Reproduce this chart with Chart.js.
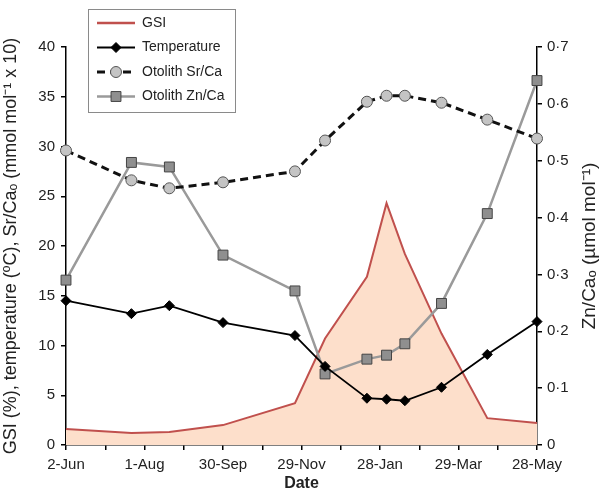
<!DOCTYPE html>
<html>
<head>
<meta charset="utf-8">
<title>GSI, temperature and otolith chemistry</title>
<script src="https://cdn.jsdelivr.net/npm/chart.js@4/dist/chart.umd.min.js"></script>
<style>
  html, body { margin: 0; padding: 0; background: #fff; }
  #wrap { width: 606px; height: 493px; }
</style>
</head>
<body>
<div id="wrap"><canvas id="chart" width="606" height="493"></canvas></div>
<script>
'use strict';

// days after 2-Jun for each sampling date
const sampleDays = [0, 50, 79, 120, 175, 198, 230, 245, 259, 287, 322, 360];
const dateLabels = ['2-Jun', '1-Aug', '30-Sep', '29-Nov', '28-Jan', '29-Mar', '28-May'];

const gsi = [1.6, 1.2, 1.3, 2.0, 4.2, 10.7, 16.9, 24.3, 19.2, 11.2, 2.7, 2.2];
const temperature = [14.5, 13.2, 14.0, 12.3, 11.0, 7.9, 4.7, 4.6, 4.45, 5.8, 9.1, 12.4];
const srCa = [29.6, 26.6, 25.8, 26.4, 27.5, 30.6, 34.5, 35.1, 35.1, 34.4, 32.7, 30.8];
const znCa = [0.29, 0.497, 0.489, 0.334, 0.271, 0.125, 0.151, 0.158, 0.178, 0.249, 0.407, 0.641];

const FONT = '"Liberation Sans", Arial, sans-serif';
const pts = (ys) => ys.map((y, i) => ({ x: sampleDays[i], y }));

Chart.defaults.font.family = FONT;
Chart.defaults.color = '#222';

function marker(ctx, ds, x, y) {
  const r = ds.pointRadius;
  ctx.save();
  ctx.setLineDash([]);
  ctx.fillStyle = ds.pointBackgroundColor;
  ctx.strokeStyle = ds.pointBorderColor;
  ctx.lineWidth = ds.pointBorderWidth;
  ctx.beginPath();
  if (ds.pointStyle === 'circle') {
    ctx.arc(x, y, r, 0, Math.PI * 2);
  } else if (ds.pointStyle === 'rect') {
    const s = r * Math.SQRT1_2;
    ctx.rect(x - s, y - s, 2 * s, 2 * s);
  } else if (ds.pointStyle === 'rectRot') {
    ctx.moveTo(x - r, y); ctx.lineTo(x, y - r); ctx.lineTo(x + r, y); ctx.lineTo(x, y + r);
    ctx.closePath();
  }
  ctx.fill();
  ctx.stroke();
  ctx.restore();
}

// boxed legend over the top-left of the plot, plus the right title read bottom-up
const extras = {
  id: 'extras',
  afterDraw(chart) {
    const ctx = chart.ctx;
    const left = 88, top = 9, w = 147, h = 103;
    ctx.save();
    ctx.fillStyle = '#fff';
    ctx.fillRect(left, top, w, h);
    ctx.strokeStyle = '#8a8a8a';
    ctx.lineWidth = 1;
    ctx.strokeRect(left + 0.5, top + 0.5, w, h);
    ctx.font = '14px ' + FONT;
    ctx.textBaseline = 'middle';
    chart.data.datasets.forEach((ds, i) => {
      const y = top + 14 + i * 24.5;
      ctx.strokeStyle = ds.borderColor;
      ctx.lineWidth = i === 0 ? 2.5 : ds.borderWidth;
      ctx.setLineDash(ds.borderDash || []);
      ctx.beginPath();
      ctx.moveTo(97, y);
      ctx.lineTo(135, y);
      ctx.stroke();
      ctx.setLineDash([]);
      if (ds.pointRadius) marker(ctx, ds, 116, y);
      ctx.fillStyle = '#222';
      ctx.fillText(ds.label, 142, y);
    });

    const a = chart.chartArea;
    ctx.translate(590, (a.top + a.bottom) / 2);
    ctx.rotate(-Math.PI / 2);
    ctx.textAlign = 'center';
    ctx.font = '19px ' + FONT;
    ctx.fillText('Zn/Caₒ (µmol mol⁻¹)', 0, 0);
    ctx.restore();
  }
};

const fixSize = (size, key) => (scale) => { scale[key] = size; };
const tickGrid = { drawOnChartArea: false, color: '#000', tickLength: 5, lineWidth: 1.5 };

new Chart(document.getElementById('chart'), {
  type: 'line',
  data: {
    datasets: [
      {
        label: 'GSI',
        data: pts(gsi),
        yAxisID: 'y',
        borderColor: '#c0504d',
        borderWidth: 2,
        backgroundColor: '#fddfcb',
        fill: 'origin',
        pointRadius: 0,
        tension: 0,
        order: 4
      },
      {
        label: 'Temperature',
        data: pts(temperature),
        yAxisID: 'y',
        borderColor: '#000',
        borderWidth: 1.8,
        pointStyle: 'rectRot',
        pointRadius: 5,
        pointBackgroundColor: '#000',
        pointBorderColor: '#000',
        pointBorderWidth: 1,
        order: 2
      },
      {
        label: 'Otolith Sr/Ca',
        data: pts(srCa),
        yAxisID: 'y',
        borderColor: '#111',
        borderWidth: 3,
        borderDash: [8, 5],
        pointStyle: 'circle',
        pointRadius: 5.5,
        pointBackgroundColor: '#c4c4c4',
        pointBorderColor: '#555',
        pointBorderWidth: 1,
        order: 1
      },
      {
        label: 'Otolith Zn/Ca',
        data: pts(znCa),
        yAxisID: 'y1',
        borderColor: '#9a9a9a',
        borderWidth: 2.5,
        pointStyle: 'rect',
        pointRadius: 7,
        pointBackgroundColor: '#8f8f8f',
        pointBorderColor: '#444',
        pointBorderWidth: 1,
        order: 3
      }
    ]
  },
  options: {
    responsive: false,
    animation: false,
    clip: false,
    layout: { padding: { top: 47, left: 0, right: 0, bottom: 0 } },
    plugins: { legend: { display: false }, tooltip: { enabled: false } },
    scales: {
      x: {
        type: 'linear',
        min: 0,
        max: 360,
        afterFit: fixSize(48, 'height'),
        border: { color: '#000', width: 1.5 },
        grid: tickGrid,
        ticks: {
          stepSize: 30,
          autoSkip: false,
          maxRotation: 0,
          padding: 6,
          font: { size: 15 },
          callback: (v) => (v % 60 === 0 ? dateLabels[v / 60] : '')
        },
        title: { display: true, text: 'Date', font: { size: 16, weight: 'bold' }, padding: 0 }
      },
      y: {
        position: 'left',
        min: 0,
        max: 40,
        afterFit: fixSize(66, 'width'),
        border: { color: '#000', width: 1.5 },
        grid: tickGrid,
        ticks: { stepSize: 5, padding: 6, font: { size: 15 } },
        title: {
          display: true,
          text: 'GSI (%), temperature (ºC), Sr/Caₒ (mmol mol⁻¹ x 10)',
          font: { size: 18 },
          padding: { top: 0, bottom: 6 }
        }
      },
      y1: {
        position: 'right',
        min: 0,
        max: 0.7,
        afterFit: fixSize(69, 'width'),
        border: { color: '#000', width: 1.5 },
        grid: tickGrid,
        ticks: {
          stepSize: 0.1,
          padding: 5,
          font: { size: 15 },
          callback: (v) => (v === 0 ? '0' : v.toFixed(1).replace('.', '·'))
        }
      }
    }
  },
  plugins: [extras]
});
</script>
</body>
</html>
